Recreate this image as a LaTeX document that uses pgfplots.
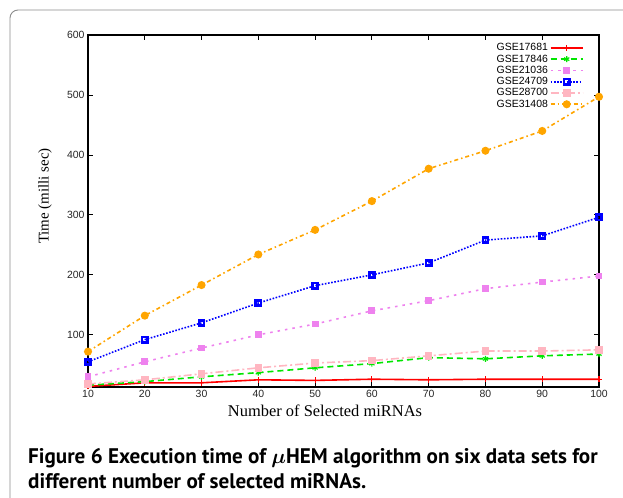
\documentclass[border=0pt]{standalone}
\usepackage{amsmath}
\usepackage{pgfplots}
\pgfplotsset{compat=1.18}
\usepackage{fontspec}
\setmainfont{Liberation Sans}
\newfontfamily\serif{Liberation Serif}
\newfontfamily\capfont{PT Sans}

\definecolor{c1}{RGB}{255,0,0}
\definecolor{c2}{RGB}{0,230,0}
\definecolor{c3}{RGB}{238,130,238}
\definecolor{c4}{RGB}{0,0,255}
\definecolor{c5}{RGB}{255,182,193}
\definecolor{c6}{RGB}{255,165,0}

\begin{document}
\begin{tikzpicture}[x=1bp,y=1bp]
\useasboundingbox (0,0) rectangle (623,-498);
\draw[black!45, line width=0.9bp, rounded corners=8bp] (10,-510) -- (10,-10) -- (640,-10);

\begin{axis}[
  at={(88bp,-387bp)}, anchor=south west,
  scale only axis, width=511bp, height=352bp,
  xmin=10, xmax=100, ymin=13, ymax=600,
  xtick={10,20,...,100}, ytick={100,200,...,600},
  tick align=inside, major tick length=5bp,
  axis line style={line width=1.2bp},
  every tick/.style={black, line width=0.8bp},
  tick label style={font=\fontsize{10.5}{11}\selectfont, text=black!85},
  /pgf/number format/assume math mode=true,
  legend plot pos=right,
  legend cell align=right,
  legend style={draw=none, fill=none, at={(0.972,0.985)}, anchor=north east,
    font=\fontsize{10.5}{11}\selectfont, row sep=-1.5bp, inner sep=1bp},
  legend image code/.code={\draw[mark repeat=2,mark phase=2] plot coordinates {(0bp,0bp) (16bp,0bp) (32bp,0bp)};},
  every axis plot/.append style={line width=1.6bp},
]
\addplot[c1, mark=+, mark size=3bp, mark options={solid, line width=1.2bp}] coordinates {
(10,14)(20,20)(30,20)(40,25)(50,24)(60,26)(70,25)(80,26)(90,26)(100,26)};
\addlegendentry{GSE17681}
\addplot[c2, dash pattern=on 6bp off 4bp, mark=asterisk, mark size=3bp, mark options={solid, line width=1.2bp}] coordinates {
(10,16)(20,22)(30,30)(40,37)(50,45)(60,52)(70,62)(80,60)(90,65)(100,68)};
\addlegendentry{GSE17846}
\addplot[c3, dash pattern=on 2.5bp off 5bp, mark=square*, mark size=2.6bp, mark options={solid}] coordinates {
(10,30)(20,55)(30,78)(40,100)(50,118)(60,140)(70,157)(80,177)(90,188)(100,198)};
\addlegendentry{GSE21036}
\addplot[c4, dash pattern=on 1.6bp off 1.6bp, mark=square, mark size=2.6bp, mark options={solid, line width=2.6bp}] coordinates {
(10,55)(20,92)(30,120)(40,153)(50,182)(60,200)(70,220)(80,258)(90,265)(100,296)};
\addlegendentry{GSE24709}
\addplot[c5, dash pattern=on 8bp off 3bp on 2bp off 3bp, mark=square*, mark size=3bp, mark options={solid}] coordinates {
(10,18)(20,25)(30,35)(40,45)(50,53)(60,57)(70,65)(80,73)(90,73)(100,75)};
\addlegendentry{GSE28700}
\addplot[c6, dash pattern=on 4bp off 3bp on 1.5bp off 3bp, mark=*, mark size=3.2bp, mark options={solid}] coordinates {
(10,72)(20,132)(30,183)(40,234)(50,275)(60,323)(70,377)(80,407)(90,440)(100,497)};
\addlegendentry{GSE31408}
\end{axis}

\node[anchor=center, font=\serif\fontsize{16.5}{18}\selectfont] at (325,-411) {Number of Selected miRNAs};
\node[anchor=center, rotate=90, font=\serif\fontsize{15}{16}\selectfont] at (45,-196) {Time (milli sec)};

\node[anchor=base west, inner sep=0pt, font=\capfont\bfseries\fontsize{21.2}{24}\selectfont] at (28,-463)
  {Figure 6 Execution time of $\boldsymbol{\mu}$HEM algorithm on six data sets for};
\node[anchor=base west, inner sep=0pt, font=\capfont\bfseries\fontsize{21.2}{24}\selectfont] at (28,-488)
  {different number of selected miRNAs.};
\end{tikzpicture}
\end{document}
